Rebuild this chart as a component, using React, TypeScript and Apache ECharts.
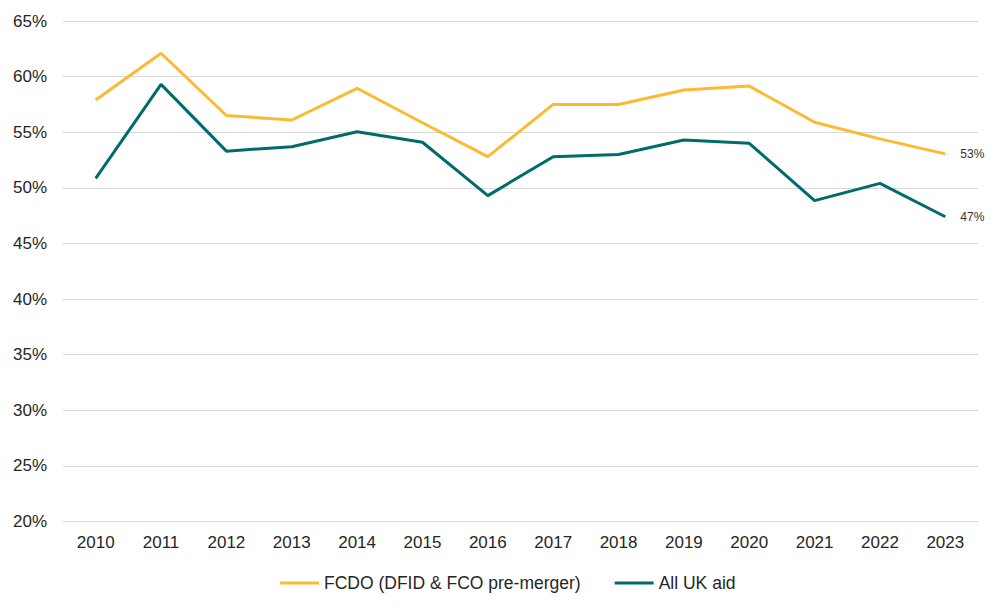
import React, { useEffect, useRef } from 'react';
import * as echarts from 'echarts';

const years = ['2010', '2011', '2012', '2013', '2014', '2015', '2016', '2017', '2018', '2019', '2020', '2021', '2022', '2023'];
const fcdoShare = [57.9, 62.1, 56.5, 56.1, 58.95, 55.85, 52.8, 57.5, 57.5, 58.8, 59.15, 55.9, 54.4, 53.05];
const allUkShare = [50.85, 59.3, 53.3, 53.7, 55.05, 54.1, 49.3, 52.8, 53.0, 54.3, 54.0, 48.85, 50.4, 47.4];

const FONT = 'Liberation Sans, Arial, sans-serif';
const YELLOW = '#FDB931';
const TEAL = '#006B6B';

const App: React.FC = () => {
  const chartRef = useRef<HTMLDivElement>(null);

  useEffect(() => {
    document.body.style.margin = '0';
    if (!chartRef.current) return;
    const chart = echarts.init(chartRef.current, undefined, { renderer: 'svg' });

    const endLabel = {
      show: true,
      distance: 15,
      fontFamily: FONT,
      fontSize: 12,
      color: '#333333',
      formatter: (p: any) => Math.round(p.value) + '%',
    };

    chart.setOption({
      animation: false,
      backgroundColor: '#ffffff',
      grid: { left: 63, right: 22, top: 21, bottom: 86.5 },
      legend: {
        left: 275,
        top: 569,
        icon: 'rect',
        itemWidth: 39,
        itemHeight: 3,
        itemGap: 34,
        textStyle: { fontFamily: FONT, fontSize: 17.5, color: '#262626' },
        data: ['FCDO (DFID & FCO pre-merger)', 'All UK aid'],
      },
      xAxis: {
        type: 'category',
        data: years,
        boundaryGap: true,
        axisTick: { show: false },
        axisLine: { lineStyle: { color: '#d9d9d9', width: 1 } },
        axisLabel: { fontFamily: FONT, fontSize: 17, color: '#262626', margin: 12 },
      },
      yAxis: {
        type: 'value',
        min: 20,
        max: 65,
        interval: 5,
        axisLabel: { fontFamily: FONT, fontSize: 17, color: '#262626', margin: 16, formatter: '{value}%' },
        splitLine: { lineStyle: { color: '#d9d9d9', width: 1 } },
        axisLine: { show: false },
        axisTick: { show: false },
      },
      series: [
        {
          name: 'FCDO (DFID & FCO pre-merger)',
          type: 'line',
          data: fcdoShare,
          symbol: 'none',
          color: YELLOW,
          lineStyle: { color: YELLOW, width: 3 },
          endLabel,
        },
        {
          name: 'All UK aid',
          type: 'line',
          data: allUkShare,
          symbol: 'none',
          color: TEAL,
          lineStyle: { color: TEAL, width: 3 },
          endLabel,
        },
      ],
    });

    return () => {
      chart.dispose();
    };
  }, []);

  return <div ref={chartRef} style={{ width: 1000, height: 608 }} />;
};

export default App;
